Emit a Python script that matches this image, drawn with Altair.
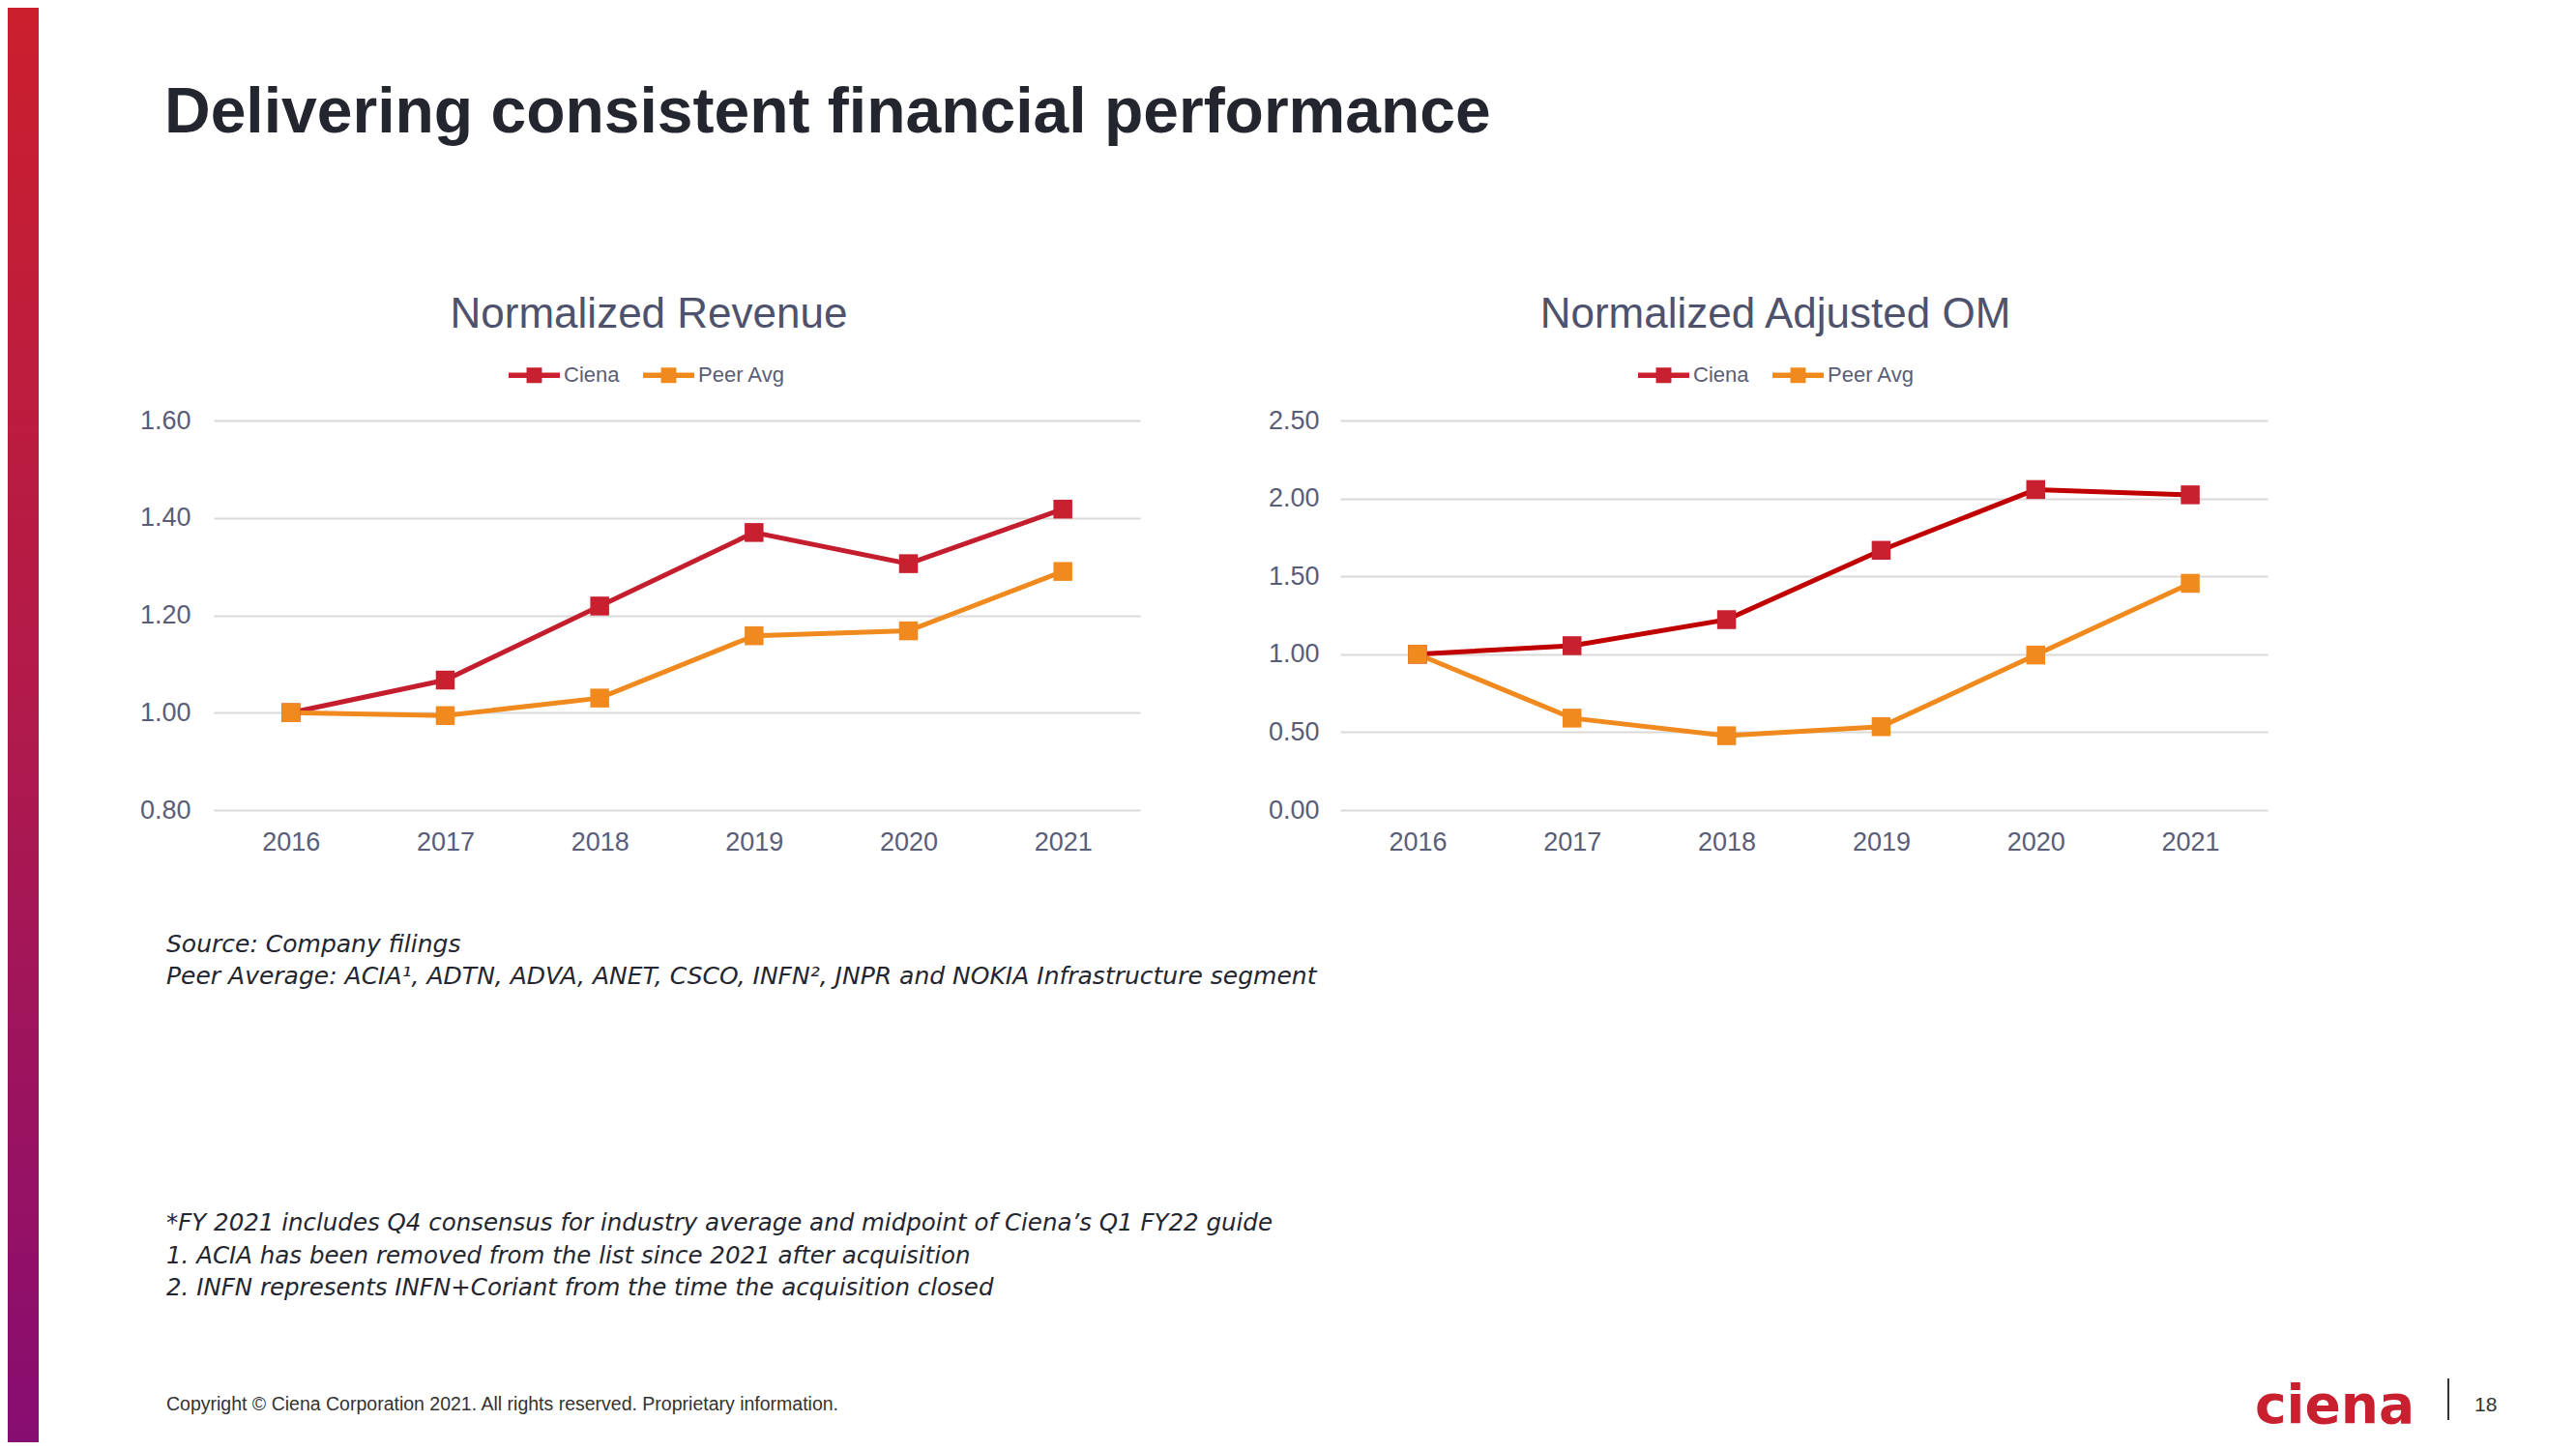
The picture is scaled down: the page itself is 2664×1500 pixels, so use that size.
import altair as alt
import pandas as pd

# ---------------- data ----------------
years = ["2016", "2017", "2018", "2019", "2020", "2021"]
series_names = ["Ciena", "Peer Avg"]

rev_ciena = [1.00, 1.067, 1.219, 1.370, 1.306, 1.418]
rev_peer = [1.00, 0.994, 1.030, 1.158, 1.168, 1.290]
rev_ticks = [0.8, 1.0, 1.2, 1.4, 1.6]

om_ciena = [1.00, 1.055, 1.222, 1.667, 2.057, 2.023]
om_peer = [1.00, 0.590, 0.477, 0.535, 0.995, 1.455]
om_ticks = [0.0, 0.5, 1.0, 1.5, 2.0, 2.5]

page_title = "Delivering consistent financial performance"
chart_titles = ["Normalized Revenue", "Normalized Adjusted OM"]
notes_top = [
    "Source: Company filings",
    "Peer Average:  ACIA\u00b9, ADTN, ADVA, ANET, CSCO, INFN\u00b2, JNPR and NOKIA Infrastructure segment",
]
notes_bottom = [
    "*FY 2021 includes Q4 consensus for industry average and midpoint of Ciena\u2019s Q1 FY22 guide",
    "1. ACIA has been removed  from the list since 2021 after acquisition",
    "2. INFN represents  INFN+Coriant  from  the time the acquisition closed",
]
copyright_text = "Copyright \u00a9 Ciena Corporation 2021. All rights reserved. Proprietary information."
logo_text = "ciena"
page_number = "18"

# ---------------- styles ----------------
FONT = "Liberation Sans"
NOTE_FONT = "DejaVu Sans"
AXIS_C = "#5A5D78"
TITLE_C = "#4E526D"
DARK = "#24262F"
GRID_C = "#D9D9D9"
ORANGE = "#F08A1E"
LEG_PATH = "M-1,-0.1L1,-0.1L1,0.1L-1,0.1Z M-0.3,-0.3L0.3,-0.3L0.3,0.3L-0.3,0.3Z"

W, H = 958, 403


def text_layer(s, x, y, **kw):
    opts = dict(align="left", baseline="alphabetic", font=FONT)
    opts.update(kw)
    return alt.Chart(pd.DataFrame({"t": [s]})).mark_text(**opts).encode(
        text="t:N", x=alt.value(x), y=alt.value(y)
    )


def panel(ciena, peer, ticks, title, line_colors, marker_colors, legend_x, label_pad):
    df = pd.DataFrame({
        "year": years * 2,
        "series": [series_names[0]] * len(years) + [series_names[1]] * len(years),
        "value": ciena + peer,
    })
    x = alt.X("year:O", title=None,
              scale=alt.Scale(type="point", padding=0.5),
              axis=alt.Axis(labelAngle=0, ticks=False, domain=False, grid=False,
                            labelPadding=20, labelFontSize=27, labelColor=AXIS_C,
                            labelFont=FONT))
    y = alt.Y("value:Q", title=None,
              scale=alt.Scale(domain=[ticks[0], ticks[-1]], nice=False, zero=False),
              axis=alt.Axis(values=ticks, format=".2f", ticks=False, domain=False,
                            grid=True, gridColor=GRID_C, gridWidth=2,
                            labelPadding=label_pad, labelFontSize=27,
                            labelColor=AXIS_C, labelFont=FONT))
    base = alt.Chart(df)
    layers = []
    for name, c in zip(series_names, line_colors):
        layers.append(
            base.transform_filter(alt.datum.series == name)
            .mark_line(strokeWidth=5, color=c)
            .encode(x=x, y=y)
        )
    pts = base.mark_point(shape="square", filled=True, size=380, opacity=1).encode(
        x=x, y=y,
        fill=alt.Fill("series:N", scale=alt.Scale(domain=series_names, range=marker_colors),
                      legend=alt.Legend(title=None, orient="none", legendX=legend_x,
                                        legendY=-73.5, direction="horizontal",
                                        symbolType=LEG_PATH, symbolSize=2809,
                                        symbolStrokeWidth=0, symbolOpacity=1,
                                        labelFontSize=22, labelColor=AXIS_C,
                                        labelFont=FONT, labelOffset=4,
                                        columnPadding=24, padding=0, labelLimit=300)),
    )
    layers.append(pts)
    layers.append(text_layer(title, 450, -96, align="center", fontSize=44, color=TITLE_C))
    return layers


# ---------------- left panel + page decorations ----------------
grad = alt.LinearGradient(
    gradient="linear",
    stops=[alt.GradientStop(color="#CB1F2D", offset=0),
           alt.GradientStop(color="#B01A4C", offset=0.5),
           alt.GradientStop(color="#870D71", offset=1)],
    x1=0, x2=0, y1=0, y2=1,
)
side_bar = alt.Chart(pd.DataFrame({"a": [0]})).mark_rect(color=grad).encode(
    x=alt.value(-213), x2=alt.value(-181), y=alt.value(-427), y2=alt.value(1057)
)

left_layers = [side_bar] + panel(rev_ciena, rev_peer, rev_ticks, chart_titles[0],
                                 ["#C41E2E", ORANGE], ["#C8202F", ORANGE], 305, 24)
left_layers.append(text_layer(page_title, -51, -298, fontSize=66, fontWeight="bold", color=DARK))
for s, yy in zip(notes_top, [550, 583]):
    left_layers.append(text_layer(s, -49, yy, font=NOTE_FONT, fontSize=25,
                                  fontStyle="italic", color=DARK))
for s, yy in zip(notes_bottom, [838, 872, 905]):
    left_layers.append(text_layer(s, -49, yy, font=NOTE_FONT, fontSize=24.5,
                                  fontStyle="italic", color=DARK))
left_layers.append(text_layer(copyright_text, -49, 1024, fontSize=19.5, color="#333333"))

left = alt.layer(*left_layers).properties(width=W, height=H)

# ---------------- right panel + logo ----------------
right_layers = panel(om_ciena, om_peer, om_ticks, chart_titles[1],
                     ["#C00000", ORANGE], ["#C8202F", ORANGE], 308, 22)
right_layers.append(text_layer(logo_text, 946, 1037, font="DejaVu Sans", fontSize=55,
                               fontWeight="bold", color="#C8202F"))
right_layers.append(
    alt.Chart(pd.DataFrame({"a": [0]})).mark_rule(color="#333333", strokeWidth=2).encode(
        x=alt.value(1146), y=alt.value(991), y2=alt.value(1034))
)
right_layers.append(text_layer(page_number, 1173, 1025, fontSize=21, color="#333333"))

right = alt.layer(*right_layers).properties(width=959, height=H)

chart = (
    alt.hconcat(left, right, spacing=207, bounds="flush", padding=0, background="white")
    .resolve_scale(x="independent", y="independent", fill="independent")
    .resolve_legend(fill="independent")
    .configure_view(stroke=None)
)

chart.save("out.html", embed_options={"renderer": "svg", "actions": False})
